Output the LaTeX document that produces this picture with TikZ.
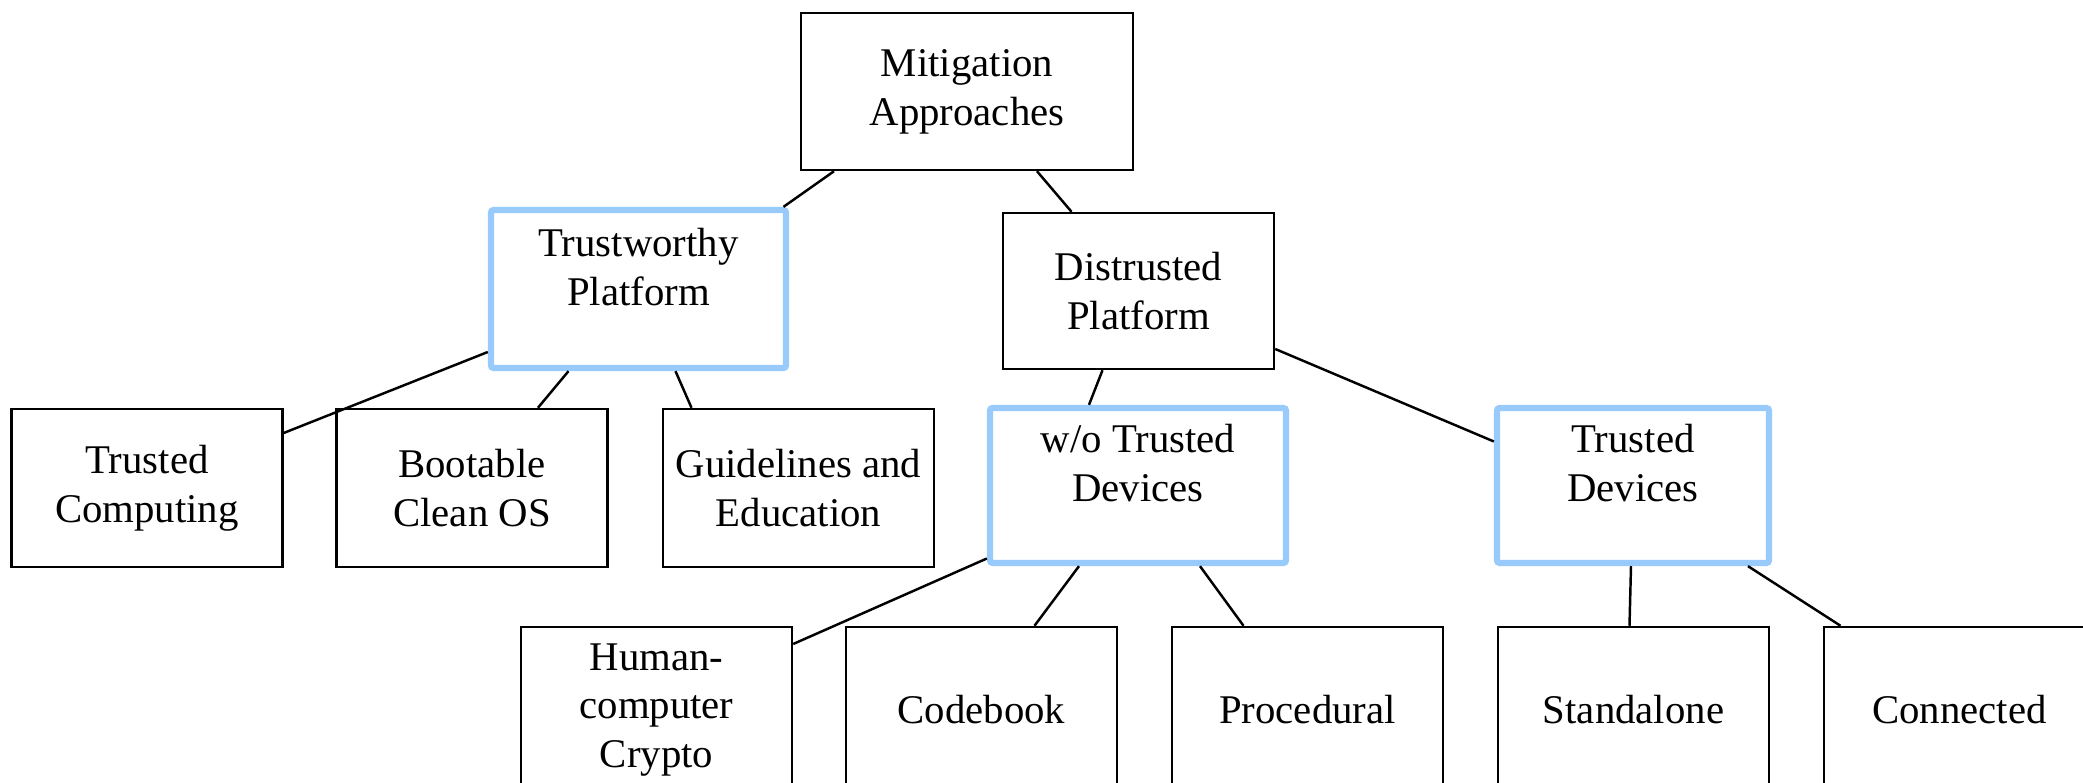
\documentclass[tikz,border=0pt]{standalone}
\usepackage{fontspec}
\setmainfont{Liberation Serif}
\usepackage{tikz}
\usepackage[dvipsnames]{xcolor}
\definecolor{hiblue}{RGB}{153,202,252}

\begin{document}
\begin{tikzpicture}[
    box/.style={draw, line width=0.7pt, align=center, font=\fontsize{11.6}{13.9}\selectfont,
        minimum width=2.71cm, minimum height=1.57cm, inner sep=0pt},
    hibox/.style={box, draw=hiblue, line width=1.8pt, rounded corners=0.8pt, text depth=0.45cm},
    leaf/.style={box, minimum height=1.66cm},
    link/.style={line width=0.7pt}]
    \useasboundingbox (0,0) rectangle (20.83,-7.83);
    \node[box, minimum width=3.32cm] (mit) at (9.67,-0.915) {Mitigation\\Approaches};
    \node[hibox, minimum width=2.95cm, minimum height=1.58cm] (tp) at (6.385,-2.89) {Trustworthy\\Platform};
    \node[box, minimum height=1.56cm] (dp) at (11.385,-2.91) {Distrusted\\Platform};
    \node[box, minimum height=1.58cm] (tc) at (1.47,-4.88) {Trusted\\Computing};
    \node[box, minimum height=1.58cm] (bc) at (4.72,-4.88) {Bootable\\Clean OS};
    \node[box, minimum height=1.58cm] (ge) at (7.985,-4.88) {Guidelines and\\Education};
    \node[hibox, minimum width=2.96cm, minimum height=1.55cm] (wo) at (11.38,-4.855) {w/o Trusted\\Devices};
    \node[hibox, minimum width=2.72cm, minimum height=1.55cm] (td) at (16.33,-4.855) {Trusted\\Devices};
    \node[leaf] (hc) at (6.565,-7.1) {Human-\\computer\\Crypto};
    \node[leaf] (cb) at (9.815,-7.1) {Codebook};
    \node[leaf] (pr) at (13.075,-7.1) {Procedural};
    \node[leaf] (sa) at (16.335,-7.1) {Standalone};
    \node[leaf] (cn) at (19.595,-7.1) {Connected};
    \draw[link] ([xshift=-13.3mm]mit.south) -- ([xshift=14.5mm]tp.north);
    \draw[link] ([xshift=7mm]mit.south) -- ([xshift=-6.7mm]dp.north);
    \draw[link] ([yshift=-6.3mm]tp.west) -- ([yshift=5.5mm]tc.east);
    \draw[link] ([xshift=-7mm]tp.south) -- ([xshift=6.6mm]bc.north);
    \draw[link] ([xshift=3.7mm]tp.south) -- ([xshift=-10.7mm]ge.north);
    \draw[link] ([xshift=-3.6mm]dp.south) -- ([xshift=-4.9mm]wo.north);
    \draw[link] ([yshift=-5.8mm]dp.east) -- ([yshift=4.4mm]td.west);
    \draw[link] ([yshift=-7.3mm]wo.west) -- ([yshift=6.6mm]hc.east);
    \draw[link] ([xshift=-5.9mm]wo.south) -- ([xshift=5.3mm]cb.north);
    \draw[link] ([xshift=6.2mm]wo.south) -- ([xshift=-6.4mm]pr.north);
    \draw[link] ([xshift=-0.2mm]td.south) -- ([xshift=-0.4mm]sa.north);
    \draw[link] ([xshift=11.5mm]td.south) -- ([xshift=-11.9mm]cn.north);
  \end{tikzpicture}
\end{document}
